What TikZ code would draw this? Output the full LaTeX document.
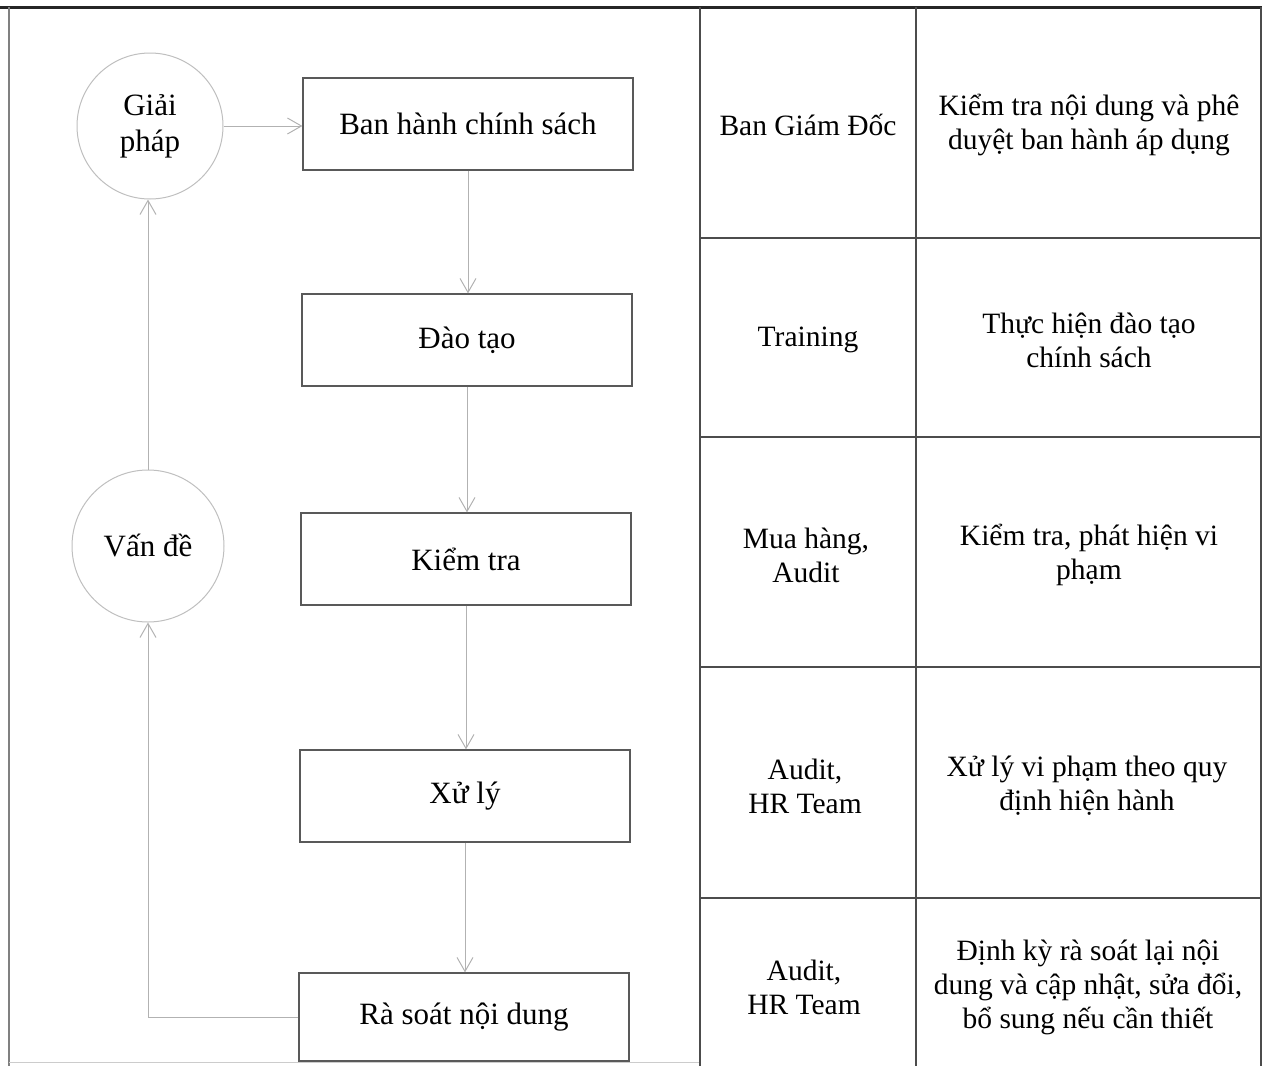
\documentclass[tikz,border=0pt]{standalone}
\usepackage{fontspec}
\setmainfont{Liberation Serif}
\usetikzlibrary{arrows.meta}
\begin{document}
\begin{tikzpicture}[x=1pt,y=-1pt,
  stepbox/.style={draw=black!65,line width=1.2pt,minimum width=330pt,minimum height=92pt,inner sep=0pt,font=\fontsize{31}{36}\selectfont},
  ring/.style={draw=black!25,line width=1pt,circle,inner sep=0pt,align=center,font=\fontsize{31}{36}\selectfont},
  flow/.style={draw=black!30,line width=1pt,-{Straight Barb[length=14pt,width=16pt]}},
  cell/.style={align=center,font=\fontsize{29.5}{34}\selectfont},
  grid/.style={draw=black!70,line width=1.3pt}]
\useasboundingbox (0,0) rectangle (1262,1066);
\draw[black!85,line width=3pt] (0,7) -- (1262,7);
\draw[black!50,line width=1.5pt] (9,7) -- (9,1066);
\draw[black!20,line width=1pt] (9,1062) -- (700,1062);
\node[ring,minimum size=146pt] (giai) at (150,126) {Giải\\pháp};
\node[ring,minimum size=152pt] (vande) at (148,546) {Vấn đề};
\node[stepbox] (ban) at (468,124) {Ban hành chính sách};
\node[stepbox] (dao) at (467,340) {Đào tạo};
\node[stepbox] (kiem) at (466,559) {Kiểm tra};
\node[stepbox] (xuly) at (465,796) {Xử lý};
\node[stepbox,minimum height=88pt] (ra) at (464,1017) {Rà soát nội dung};
\draw[flow] (giai.east) -- (giai.east -| ban.west);
\draw[flow] (ban.south) -- (ban.south |- dao.north);
\draw[flow] (dao.south) -- (dao.south |- kiem.north);
\draw[flow] (kiem.south) -- (kiem.south |- xuly.north);
\draw[flow] (xuly.south) -- (xuly.south |- ra.north);
\draw[flow] (ra.west) -| (vande.south);
\draw[flow] (vande.north) -- (vande.north |- giai.south);
\draw[grid] (700,7) -- (700,1066);
\draw[grid] (916,7) -- (916,1066);
\draw[grid] (1261,7) -- (1261,1066);
\foreach \y in {238,437,667,898} \draw[grid] (700,\y) -- (1262,\y);
\node[cell] (who1) at (808,125) {Ban Giám Đốc};
\node[cell] (what1) at (1089,125) {Kiểm tra nội dung và phê\\duyệt ban hành áp dụng};
\node[cell] (who2) at (808,340) {Training};
\node[cell] (what2) at (1089,340) {Thực hiện đào tạo\\chính sách};
\node[cell] (who3) at (806,555) {Mua hàng,\\Audit};
\node[cell] (what3) at (1089,555) {Kiểm tra, phát hiện vi\\phạm};
\node[cell] (who4) at (805,786) {Audit,\\HR Team};
\node[cell] (what4) at (1087,786) {Xử lý vi phạm theo quy\\định hiện hành};
\node[cell] (who5) at (804,987) {Audit,\\HR Team};
\node[cell] (what5) at (1088,987) {Định kỳ rà soát lại nội\\dung và cập nhật, sửa đổi,\\bổ sung nếu cần thiết};
\end{tikzpicture}
\end{document}
